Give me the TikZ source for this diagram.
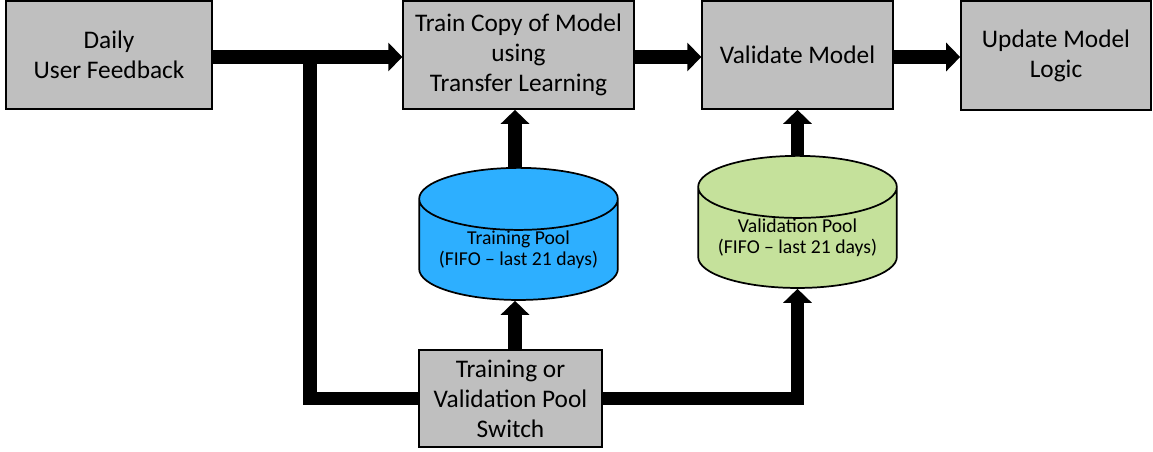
\documentclass[tikz,border=0pt]{standalone}
\usepackage{fontspec}
\setmainfont{Carlito}
\usetikzlibrary{arrows.meta,shapes.geometric,positioning,calc}

\definecolor{boxgray}{RGB}{191,191,191}
\definecolor{poolblue}{RGB}{45,175,255}
\definecolor{poolgreen}{RGB}{197,225,155}

\tikzset{
  box/.style={draw, fill=boxgray, line width=1.3pt, align=center,
    font=\fontsize{19}{22.5}\selectfont, inner sep=0pt},
  pool/.style={draw, shape=cylinder, shape border rotate=90, aspect=0.39,
    line width=1.3pt, align=center, font=\fontsize{14.75}{16}\selectfont,
    minimum width=149pt, minimum height=97pt, inner sep=0pt, anchor=north},
  bus/.style={line width=10pt, line join=miter},
  busarrow/.style={bus, -{Triangle[length=10.5pt,width=21pt]}},
}

\begin{document}
\begin{tikzpicture}[x=0.75pt, y=-0.75pt]
\useasboundingbox (0,0) rectangle (1153,452);

% top row of boxes
\node [box, minimum width=154.5pt, minimum height=81pt] (daily) at (109,55) {Daily\\User Feedback};
\node [box, minimum width=173pt, minimum height=81pt] (train) at (518.5,55) {Train Copy of Model\\using\\Transfer Learning};
\node [box, minimum width=143pt, minimum height=81pt] (validate) at (797.5,55) {Validate Model};
\node [box, minimum width=142.5pt, minimum height=81.75pt] (update) at (1056,55.5) {Update Model\\Logic};

% pools
\node [pool, fill=poolblue] (tpool) at (518.5,167) {Training Pool\\(FIFO -- last 21 days)};
\node [pool, fill=poolgreen] (vpool) at (797.5,155) {Validation Pool\\(FIFO -- last 21 days)};

\node [box, minimum width=137pt, minimum height=73pt] (switch) at (510.5,398.5) {Training or\\Validation Pool\\Switch};

\coordinate (split) at (310,57);

% arrows
\draw [busarrow] (daily.east |- split) -- (train.west |- split);
\draw [bus] (split) |- (switch.west);
\draw [busarrow] (train.east |- split) -- (validate.west |- split);
\draw [busarrow] (validate.east |- split) -- (update.west |- split);
\draw [busarrow] (switch.north -| tpool) ++(-3.5,0) coordinate (sw-up) -- (sw-up |- tpool.south);
\draw [busarrow] (tpool.north) ++(-3.5,0) coordinate (tp-up) -- (tp-up |- train.south);
\draw [busarrow] (switch.east) -| (vpool.south);
\draw [busarrow] (vpool.north) -- (validate.south);

\end{tikzpicture}
\end{document}
